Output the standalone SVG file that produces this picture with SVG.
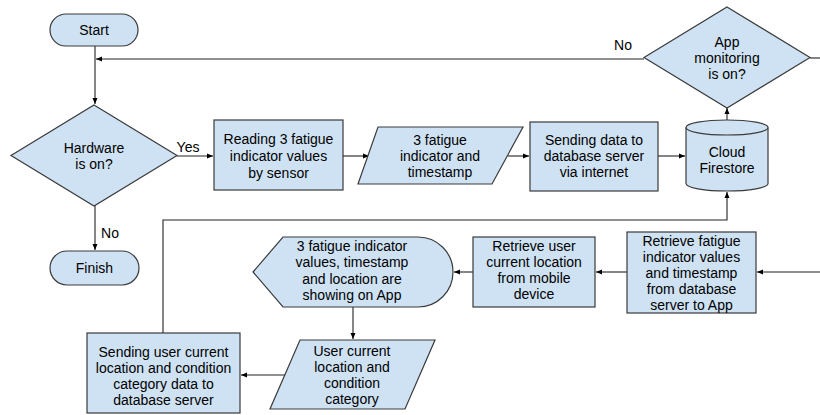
<svg xmlns="http://www.w3.org/2000/svg" width="820" height="415" viewBox="0 0 820 415">
<style>
.s{fill:#cfe2f3;stroke:#3a3a3a;stroke-width:1.2}
.t{font-family:"Liberation Sans",Arial,sans-serif;font-size:14px;fill:#000;text-anchor:middle}
.c{fill:none;stroke:#222;stroke-width:1.1}
</style>
<defs>
<marker id="a" viewBox="0 0 6 6" refX="6" refY="3" markerWidth="6" markerHeight="6" markerUnits="userSpaceOnUse" orient="auto">
<path d="M0,0.5 L6,3 L0,5.5 z" fill="#000"/>
</marker>
</defs>
<rect width="820" height="415" fill="#fff"/>
<g id="connectors">
<path class="c" d="M95,46 V104" marker-end="url(#a)"/>
<path class="c" d="M644,59 H96" marker-end="url(#a)"/>
<path class="c" d="M810,58 H820"/>
<path class="c" d="M177,156 H213" marker-end="url(#a)"/>
<path class="c" d="M343,156 H369" marker-end="url(#a)"/>
<path class="c" d="M508,156 H529" marker-end="url(#a)"/>
<path class="c" d="M658,156 H685" marker-end="url(#a)"/>
<path class="c" d="M727,120 V108" marker-end="url(#a)"/>
<path class="c" d="M95,205 V250" marker-end="url(#a)"/>
<path class="c" d="M163,333 V220 H727 V192" marker-end="url(#a)"/>
<path class="c" d="M820,272 H757" marker-end="url(#a)"/>
<path class="c" d="M627,272 H596" marker-end="url(#a)"/>
<path class="c" d="M473,272 H454" marker-end="url(#a)"/>
<path class="c" d="M353,307 V339" marker-end="url(#a)"/>
<path class="c" d="M286,375 H241" marker-end="url(#a)"/>
<text class="t" x="188" y="152">Yes</text>
<text class="t" x="110" y="238">No</text>
<text class="t" x="623" y="50">No</text>
</g>
<g id="start">
<rect class="s" x="50" y="14" width="88" height="32" rx="16"/>
<text class="t" x="94" y="35">Start</text>
</g>
<g id="hardware">
<polygon class="s" points="94,105 177,155.5 94,206 11,155.5"/>
<text class="t" x="94" y="153">Hardware</text>
<text class="t" x="94" y="169">is on?</text>
</g>
<g id="finish">
<rect class="s" x="50" y="251" width="89" height="34" rx="17"/>
<text class="t" x="94.5" y="273">Finish</text>
</g>
<g id="reading">
<rect class="s" x="214" y="120" width="129" height="70"/>
<text class="t" x="278.5" y="144">Reading 3 fatigue</text>
<text class="t" x="278.5" y="161">indicator values</text>
<text class="t" x="278.5" y="178">by sensor</text>
</g>
<g id="indicator-data">
<polygon class="s" points="378,127 523,127 492,184 358,184"/>
<text class="t" x="440" y="145">3 fatigue</text>
<text class="t" x="440" y="161">indicator and</text>
<text class="t" x="440" y="177">timestamp</text>
</g>
<g id="sending-data">
<rect class="s" x="530" y="122" width="128" height="69"/>
<text class="t" x="594" y="145">Sending data to</text>
<text class="t" x="594" y="161">database server</text>
<text class="t" x="594" y="177">via internet</text>
</g>
<g id="cloud">
<path class="s" d="M686,127.5 V183.5 A41,7.5 0 0 0 768,183.5 V127.5"/>
<ellipse class="s" cx="727" cy="127.5" rx="41" ry="7.5"/>
<text class="t" x="727" y="157">Cloud</text>
<text class="t" x="727" y="173">Firestore</text>
</g>
<g id="app-monitoring">
<polygon class="s" points="727,7 810,57.5 727,108 644,57.5"/>
<text class="t" x="727" y="47">App</text>
<text class="t" x="727" y="63">monitoring</text>
<text class="t" x="727" y="79">is on?</text>
</g>
<g id="retrieve-fatigue">
<rect class="s" x="627" y="232" width="129" height="81"/>
<text class="t" x="691.5" y="246">Retrieve fatigue</text>
<text class="t" x="691.5" y="262">indicator values</text>
<text class="t" x="691.5" y="278">and timestamp</text>
<text class="t" x="691.5" y="294">from database</text>
<text class="t" x="691.5" y="310">server to App</text>
</g>
<g id="retrieve-location">
<rect class="s" x="473" y="237" width="122" height="70"/>
<text class="t" x="534" y="251">Retrieve user</text>
<text class="t" x="534" y="267">current location</text>
<text class="t" x="534" y="283">from mobile</text>
<text class="t" x="534" y="299">device</text>
</g>
<g id="display">
<path class="s" d="M253,272 L283,237 H418 A35,35 0 0 1 418,307 H283 Z"/>
<text class="t" x="352" y="251">3 fatigue indicator</text>
<text class="t" x="352" y="267">values, timestamp</text>
<text class="t" x="352" y="284">and location are</text>
<text class="t" x="352" y="300">showing on App</text>
</g>
<g id="user-condition">
<polygon class="s" points="300,340 435,340 405,409 270,409"/>
<text class="t" x="352" y="356">User current</text>
<text class="t" x="352" y="372">location and</text>
<text class="t" x="352" y="388">condition</text>
<text class="t" x="352" y="404">category</text>
</g>
<g id="sending-user">
<rect class="s" x="87" y="333" width="153" height="80"/>
<text class="t" x="163.5" y="357">Sending user current</text>
<text class="t" x="163.5" y="373">location and condition</text>
<text class="t" x="163.5" y="389">category data to</text>
<text class="t" x="163.5" y="405">database server</text>
</g>
</svg>
